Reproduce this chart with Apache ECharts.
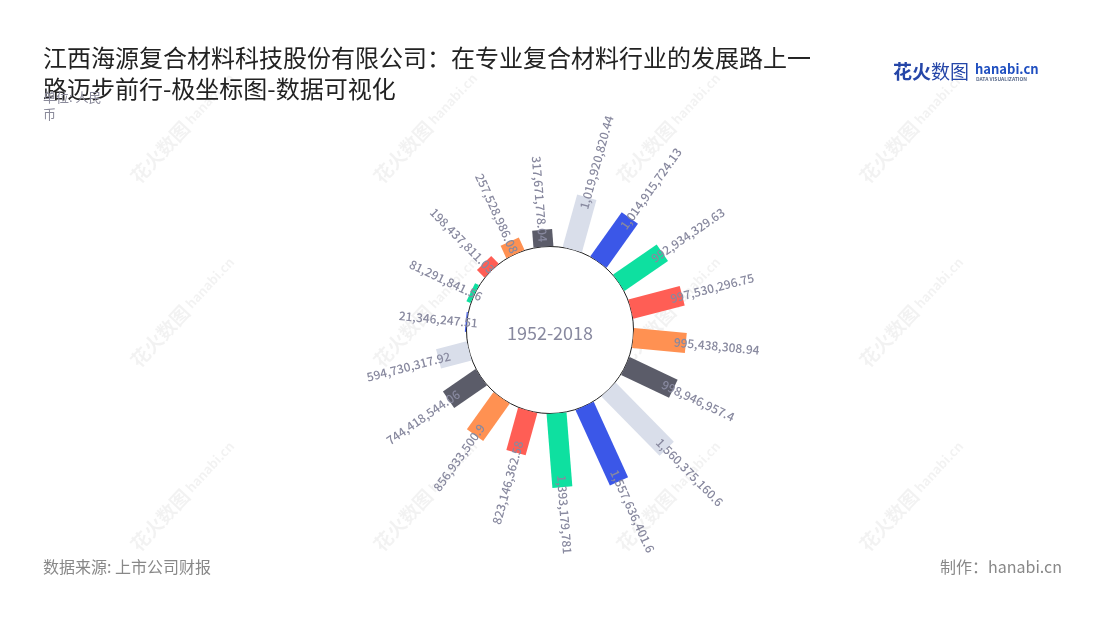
<!DOCTYPE html>
<html>
<head>
<meta charset="utf-8">
<script src="https://cdn.jsdelivr.net/npm/echarts@6/dist/echarts.min.js"></script>
<style>
html,body{margin:0;padding:0;background:#fff;}
#main{width:1100px;height:620px;}
</style>
</head>
<body>
<div id="main"></div>
<script>
// ---- data ----
const categories = ['1','2','3','4','5','6','7','8','9','10','11','12','13','14','15','16','17','18'];
const values = [
  21346247.51, 81291841.56, 198437811.03, 257528986.08, 317671778.04, 1019920820.44,
  1014915724.13, 992934329.63, 997530296.75, 995438308.94, 998946957.4, 1560375160.6,
  1557636401.6, 1393179781, 823146362.58, 856933500.9, 744418544.06, 594730317.92
];
const palette = ['#3b57e8', '#0ee0a0', '#ff5e55', '#ff9152', '#5b5c69', '#d9deea'];
const titleText = '江西海源复合材料科技股份有限公司：在专业复合材料行业的发展路上一\n路迈步前行-极坐标图-数据可视化';
const unitText = '单位: 人民\n币';
const sourceText = '数据来源: 上市公司财报';
const makerText = '制作：hanabi.cn';
const centerText = '1952-2018';

function fmt(v) {
  const s = String(v);
  const parts = s.split('.');
  return parts[0].replace(/\B(?=(\d{3})+(?!\d))/g, ',') + (parts[1] ? '.' + parts[1] : '');
}

const FONT = '"Noto Sans CJK SC", "Noto Sans", sans-serif';
const labelColor = '#88899f';

function renderItem(params, api) {
  const idx = params.dataIndex;
  const cs = params.coordSys;
  const a = api.value(1);
  const v = api.value(0);
  const s = api.coord([0, a]);
  const e = api.coord([v, a]);
  const dx = s[0] - cs.cx, dy = s[1] - cs.cy;
  const l0 = Math.hypot(dx, dy);
  const ux = dx / l0, uy = dy / l0;
  const px = -uy, py = ux;
  const hw = 10;
  const pts = [
    [s[0] + px * hw, s[1] + py * hw],
    [e[0] + px * hw, e[1] + py * hw],
    [e[0] - px * hw, e[1] - py * hw],
    [s[0] - px * hw, s[1] - py * hw]
  ];
  const rEnd = Math.hypot(e[0] - cs.cx, e[1] - cs.cy);
  const rl = rEnd - 12;
  const lx = cs.cx + ux * rl, ly = cs.cy + uy * rl;
  const phi = Math.atan2(-uy, ux);
  const right = ux >= 0;
  return {
    type: 'group',
    children: [
      { type: 'polygon', shape: { points: pts }, style: { fill: palette[idx % palette.length] } },
      {
        type: 'text', x: lx, y: ly, rotation: right ? phi : phi - Math.PI, z2: 10,
        style: {
          text: fmt(values[idx]), align: right ? 'left' : 'right', verticalAlign: 'middle',
          fill: labelColor, fontSize: 12, fontWeight: 500, fontFamily: FONT
        }
      }
    ]
  };
}

// watermarks
const wm = [];
for (let i = 0; i < 4; i++) {
  for (let j = 0; j < 3; j++) {
    wm.push({
      type: 'text', x: 134 + 243 * i, y: 180 + 184 * j, rotation: 47 * Math.PI / 180, z: 0, silent: true,
      style: {
        text: '{a|花火数图} {b|hanabi.cn}', align: 'left', verticalAlign: 'middle',
        rich: {
          a: { fontSize: 19, fontWeight: 'bold', fill: 'rgba(0,0,0,0.05)', fontFamily: FONT },
          b: { fontSize: 13, fontWeight: 'bold', fill: 'rgba(0,0,0,0.05)', fontFamily: FONT }
        }
      }
    });
  }
}

const chart = echarts.init(document.getElementById('main'));
chart.setOption({
  backgroundColor: '#fff',
  animation: false,
  title: [
    { text: titleText, left: 43, top: 42, padding: 0,
      textStyle: { fontSize: 24, fontWeight: 'normal', color: '#222', lineHeight: 31, fontFamily: FONT } },
    { text: unitText, left: 43, top: 88, padding: 0,
      textStyle: { fontSize: 13, fontWeight: 'normal', color: '#8a8a9a', lineHeight: 17.5, fontFamily: FONT } },
    { text: sourceText, left: 43, top: 557, padding: 0,
      textStyle: { fontSize: 16, fontWeight: 'normal', color: '#888', lineHeight: 20, fontFamily: FONT } },
    { text: makerText, right: 38, top: 557, padding: 0,
      textStyle: { fontSize: 16, fontWeight: 'normal', color: '#888', lineHeight: 20, fontFamily: FONT } }
  ],
  polar: { center: [550, 330], radius: [83.5, 189.9] },
  angleAxis: {
    type: 'category', data: categories, startAngle: 184.5, clockwise: true,
    axisLine: { show: false }, axisTick: { show: false }, axisLabel: { show: false }, splitLine: { show: false }
  },
  radiusAxis: {
    type: 'value', min: 0, max: 2000000000,
    axisLine: { show: false }, axisTick: { show: false }, axisLabel: { show: false }, splitLine: { show: false }
  },
  graphic: wm.concat([
    { type: 'circle', shape: { cx: 550, cy: 330, r: 83.5 }, z: 1,
      style: { fill: '#fff', stroke: '#222', lineWidth: 1 } },
    { type: 'text', x: 550, y: 333, z: 100,
      style: { text: centerText, align: 'center', verticalAlign: 'middle', fill: labelColor, fontSize: 18, fontFamily: FONT } },
    { type: 'text', x: 893, y: 72, z: 100,
      style: { text: '{a|花火}{b|数图}', verticalAlign: 'middle',
        rich: { a: { fontSize: 19, fontWeight: 'bold', fill: '#2546a8', fontFamily: FONT },
                b: { fontSize: 19, fontWeight: 'normal', fill: '#2546a8', fontFamily: FONT } } } },
    { type: 'text', x: 975, y: 69, z: 100,
      style: { text: 'hanabi.cn', verticalAlign: 'middle', fontSize: 13, fontWeight: 'bold', fill: '#1f4fc0', fontFamily: FONT } },
    { type: 'text', x: 976, y: 79, z: 100,
      style: { text: 'DATA VISUALIZATION', verticalAlign: 'middle', fontSize: 5, fontWeight: 'bold', fill: '#5a6a8a', fontFamily: FONT } }
  ]),
  series: [{
    type: 'custom',
    coordinateSystem: 'polar',
    renderItem: renderItem,
    encode: { radius: 0, angle: 1 },
    data: values.map((v, i) => [v, i]),
    z: 2
  }]
});
</script>
</body>
</html>
